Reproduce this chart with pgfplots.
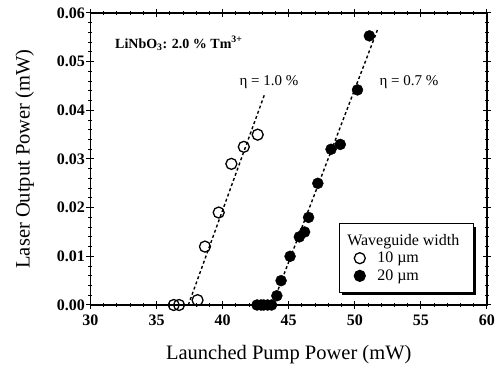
\documentclass[border=0pt]{standalone}
\usepackage{pgfplots}
\pgfplotsset{compat=1.18}
\usepackage{fontspec}
\setmainfont{Liberation Serif}
\usetikzlibrary{shadows}
\begin{document}
\begin{tikzpicture}
\begin{axis}[
  scale only axis, width=396.5pt, height=292pt,
  xmin=30, xmax=60, ymin=0, ymax=0.06,
  xtick={30,35,...,60}, ytick={0,0.01,...,0.06},
  minor x tick num=4, minor y tick num=4,
  tick align=center, major tick length=8pt, minor tick length=4pt,
  every tick/.style={line width=1pt, black},
  axis line style={line width=1.3pt},
  /pgf/number format/assume math mode=true,
  scaled y ticks=false,
  ticklabel style={font=\bfseries\fontsize{16}{16}\selectfont},
  xticklabel style={yshift=-2pt},
  yticklabel style={/pgf/number format/fixed, /pgf/number format/fixed zerofill, /pgf/number format/precision=2, xshift=2pt},
  xlabel={Launched Pump Power (mW)},
  ylabel={Laser Output Power (mW)},
  xlabel style={at={(axis description cs:0.5,-0.188)}, anchor=base, font=\fontsize{20.5}{20.5}\selectfont},
  ylabel style={at={(axis description cs:-0.166,0.5)}, anchor=center, font=\fontsize{20.5}{20.5}\selectfont},
  legend style={at={(rel axis cs:0.967,0.041)}, anchor=south east, draw=black, line width=1.2pt,
    font=\fontsize{16}{18}\selectfont, inner xsep=12pt, inner ysep=8.5pt, row sep=1.5pt,
    drop shadow={shadow xshift=3pt, shadow yshift=-3pt, fill=black, opacity=1}},
  legend cell align=left,
]
\addlegendimage{empty legend}
\addlegendentry{\hspace*{-20pt}Waveguide width}
\addplot[only marks, mark=o, mark size=5.5pt, mark options={line width=1.3pt}] coordinates {
(36.3,0) (36.7,0) (38.1,0.001) (38.66,0.012) (39.7,0.019) (40.66,0.029) (41.6,0.0325) (42.65,0.035)};
\addlegendentry{\hspace*{10pt}10 µm}
\addplot[only marks, mark=*, mark size=5.5pt, fill=black] coordinates {
(42.6,0) (42.9,0) (43.1,0) (43.4,0) (43.7,0) (44.1,0.0019) (44.42,0.005) (45.1,0.010) (45.8,0.014) (46.2,0.015) (46.5,0.018) (47.2,0.025) (48.2,0.032) (48.9,0.033) (50.2,0.0442) (51.1,0.0553)};
\addlegendentry{\hspace*{10pt}20 µm}
\addplot[black, line width=1.4pt, dash pattern=on 3pt off 2.5pt, forget plot] coordinates {(37.4,0) (43.2,0.0435)};
\addplot[black, line width=1.4pt, dash pattern=on 3pt off 2.5pt, forget plot] coordinates {(43.75,0) (51.75,0.0568)};
\node[anchor=base west, font=\bfseries\fontsize{14}{14}\selectfont] at (axis cs:31.6,0.0528) {LiNbO\textsubscript{3}: 2.0 \% Tm\textsuperscript{3+}};
\node[font=\fontsize{15}{15}\selectfont] at (axis cs:43.5,0.0458) {η = 1.0 \%};
\node[font=\fontsize{15}{15}\selectfont] at (axis cs:54.1,0.0458) {η = 0.7 \%};
\end{axis}
\pgfresetboundingbox
\path ([shift={(-90.5pt,-66pt)}]current axis.south west) rectangle ([shift={(407.5pt,305pt)}]current axis.south west);
\end{tikzpicture}
\end{document}
